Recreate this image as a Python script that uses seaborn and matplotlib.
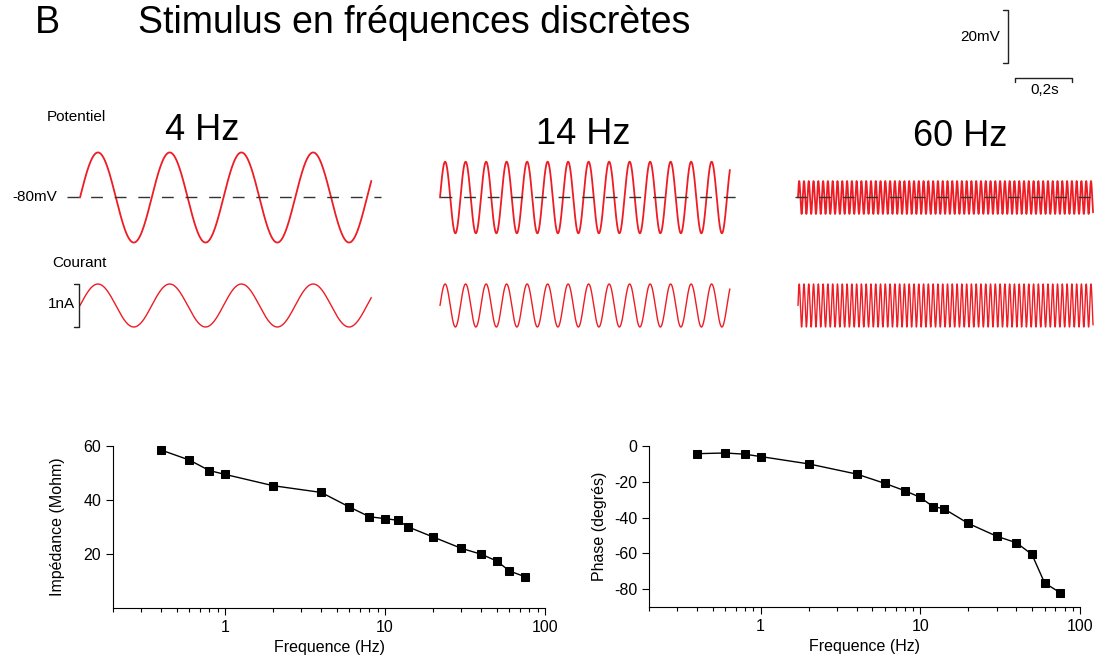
import numpy as np
import matplotlib
matplotlib.use("Agg")
import matplotlib.pyplot as plt
import matplotlib.ticker as mticker
import pandas as pd
import seaborn as sns

# impedance / phase vs frequency (bottom panels)
freq_hz = [0.4, 0.6, 0.8, 1, 2, 4, 6, 8, 10, 12, 14, 20, 30, 40, 50, 60, 75]
impedance_mohm = [58.5, 54.8, 50.9, 49.5, 45.3, 42.8, 37.4, 33.8, 33.1, 32.5,
                  30.0, 26.3, 22.1, 19.9, 17.4, 13.7, 11.6]
phase_deg = [-4.3, -3.9, -4.6, -5.9, -10.0, -15.7, -20.9, -25.0, -28.7, -33.9,
             -35.0, -43.3, -50.4, -54.1, -60.6, -76.5, -82.0]

# discrete-frequency stimulus traces (top panels)
stim_freqs = [4, 14, 60]
stim_labels = ["4 Hz", "14 Hz", "60 Hz"]
potential_amp_mv = [17.0, 13.5, 6.2]
current_amp_na = [0.5, 0.5, 0.5]
trace_duration_s = [1.015, 1.01, 1.028]
rest_potential_mv = -80
scale_mv = 20
scale_s = 0.2

W, H = 1100, 663
PX_S = 287.0   # pixels per second in the traces
PX_MV = 2.65   # pixels per mV
PX_NA = 43.0   # pixels per nA
RED = "#ee1c24"
INK = "black"

sns.set_style("ticks")
plt.rcParams["font.family"] = ["Liberation Sans", "DejaVu Sans"]
plt.rcParams["axes.unicode_minus"] = False
for key in ["text.color", "axes.labelcolor", "xtick.color", "ytick.color", "axes.edgecolor"]:
    plt.rcParams[key] = INK

fig = plt.figure(figsize=(W / 100, H / 100), dpi=100)


def ftext(x, y, s, **kw):
    fig.text(x / W, 1 - y / H, s, **kw)


def add_px_axes(x0, y0, yref, xlim, ylim, sx, sy):
    """Axes placed so that data (0, yref) sits at pixel (x0, y0)."""
    left = x0 + xlim[0] * sx
    right = x0 + xlim[1] * sx
    top = y0 - (ylim[1] - yref) * sy
    bottom = y0 - (ylim[0] - yref) * sy
    ax = fig.add_axes([left / W, 1 - bottom / H, (right - left) / W, (bottom - top) / H])
    ax.set_xlim(xlim)
    ax.set_ylim(ylim)
    ax.axis("off")
    return ax


trace_x0 = [80, 440, 798]
dash_span = [(-0.045, 1.05), (0.0, 1.03), (-0.01, 1.03)]
label_pos = [(202, 131), (583, 134), (960, 137)]
pot_axes = []

for i, f in enumerate(stim_freqs):
    t = np.linspace(0, trace_duration_s[i], 5000)
    v = rest_potential_mv + potential_amp_mv[i] * np.sin(2 * np.pi * f * t)
    cur = current_amp_na[i] * np.sin(2 * np.pi * f * t)

    axv = add_px_axes(trace_x0[i], 197.5, rest_potential_mv, (-0.06, 1.08), (-105, -55), PX_S, PX_MV)
    sns.lineplot(x=t, y=v, ax=axv, color=RED, lw=1.3, estimator=None, sort=False)
    axv.plot(dash_span[i], [rest_potential_mv] * 2, color="#333333", lw=1,
             linestyle=(0, (8.5, 8.5)), zorder=3)
    pot_axes.append(axv)

    axi = add_px_axes(trace_x0[i], 305.5, 0, (-0.06, 1.08), (-0.6, 0.6), PX_S, PX_NA)
    sns.lineplot(x=t, y=cur, ax=axi, color=RED, lw=1.0, estimator=None, sort=False)
    if i == 0:
        # 1 nA bracket
        axi.plot([-0.022, -0.003, -0.003, -0.022], [-0.5, -0.5, 0.5, 0.5],
                 color="#222222", lw=1, clip_on=False)

    ftext(*label_pos[i], stim_labels[i], fontsize=26, ha="center", va="center")

# scale bars in the 60 Hz potential axes
axs = pot_axes[2]
vb_t, vb_lo = 0.732, -29.3
axs.plot([vb_t - 0.018, vb_t, vb_t, vb_t - 0.018], [vb_lo, vb_lo, vb_lo + scale_mv, vb_lo + scale_mv],
         color="#222222", lw=1, clip_on=False)
hb_t, hb_y = 0.756, -34.9
axs.plot([hb_t, hb_t, hb_t + scale_s, hb_t + scale_s], [hb_y - 1.5, hb_y, hb_y, hb_y - 1.5],
         color="#222222", lw=1, clip_on=False)
ftext(1000, 37, "20mV", fontsize=11, ha="right", va="center")
ftext(1045, 90, "0,2s", fontsize=11, ha="center", va="center")

# trace labels
ftext(47, 117, "Potentiel", fontsize=11, ha="left", va="center")
ftext(57, 197, "-80mV", fontsize=11, ha="right", va="center")
ftext(52, 263, "Courant", fontsize=11, ha="left", va="center")
ftext(75, 304, "1nA", fontsize=11, ha="right", va="center")

# title
ftext(35, 33, "B", fontsize=27, ha="left", va="baseline")
ftext(138, 33, "Stimulus en fréquences discrètes", fontsize=27, ha="left", va="baseline")

# bottom panels
df = pd.DataFrame({"freq": freq_hz, "imp": impedance_mohm, "phase": phase_deg})

ax1 = fig.add_axes([113 / W, 1 - 608 / H, (545 - 113) / W, (608 - 446) / H])
ax2 = fig.add_axes([649 / W, 1 - 607 / H, (1080 - 649) / W, (607 - 446) / H])

for ax, col, ylim, yticks, ylabel, pad in [
    (ax1, "imp", (0, 60), [20, 40, 60], "Impédance (Mohm)", 13),
    (ax2, "phase", (-90, 0), [-80, -60, -40, -20, 0], "Phase (degrés)", 5),
]:
    sns.lineplot(data=df, x="freq", y=col, ax=ax, color="black", lw=1,
                 marker="s", markersize=6, markeredgecolor="black", estimator=None)
    for line in ax.lines:
        line.set_clip_on(False)
    ax.set_xscale("log")
    ax.set_xlim(0.2, 100)
    ax.set_ylim(*ylim)
    ax.set_xticks([1, 10, 100])
    ax.xaxis.set_major_formatter(mticker.FormatStrFormatter("%g"))
    ax.xaxis.set_minor_locator(mticker.LogLocator(base=10, subs=np.arange(2, 10)))
    ax.xaxis.set_minor_formatter(mticker.NullFormatter())
    ax.set_yticks(yticks)
    ax.set_xlabel("Frequence (Hz)", fontsize=11.5)
    ax.set_ylabel(ylabel, fontsize=11.5, labelpad=pad)
    ax.tick_params(axis="both", which="major", labelsize=11.5, length=5, width=0.8)
    ax.tick_params(axis="x", which="minor", length=3, width=0.8)
    for s in ["left", "bottom"]:
        ax.spines[s].set_linewidth(0.8)
    sns.despine(ax=ax)

fig.savefig("out.png", dpi=100)
